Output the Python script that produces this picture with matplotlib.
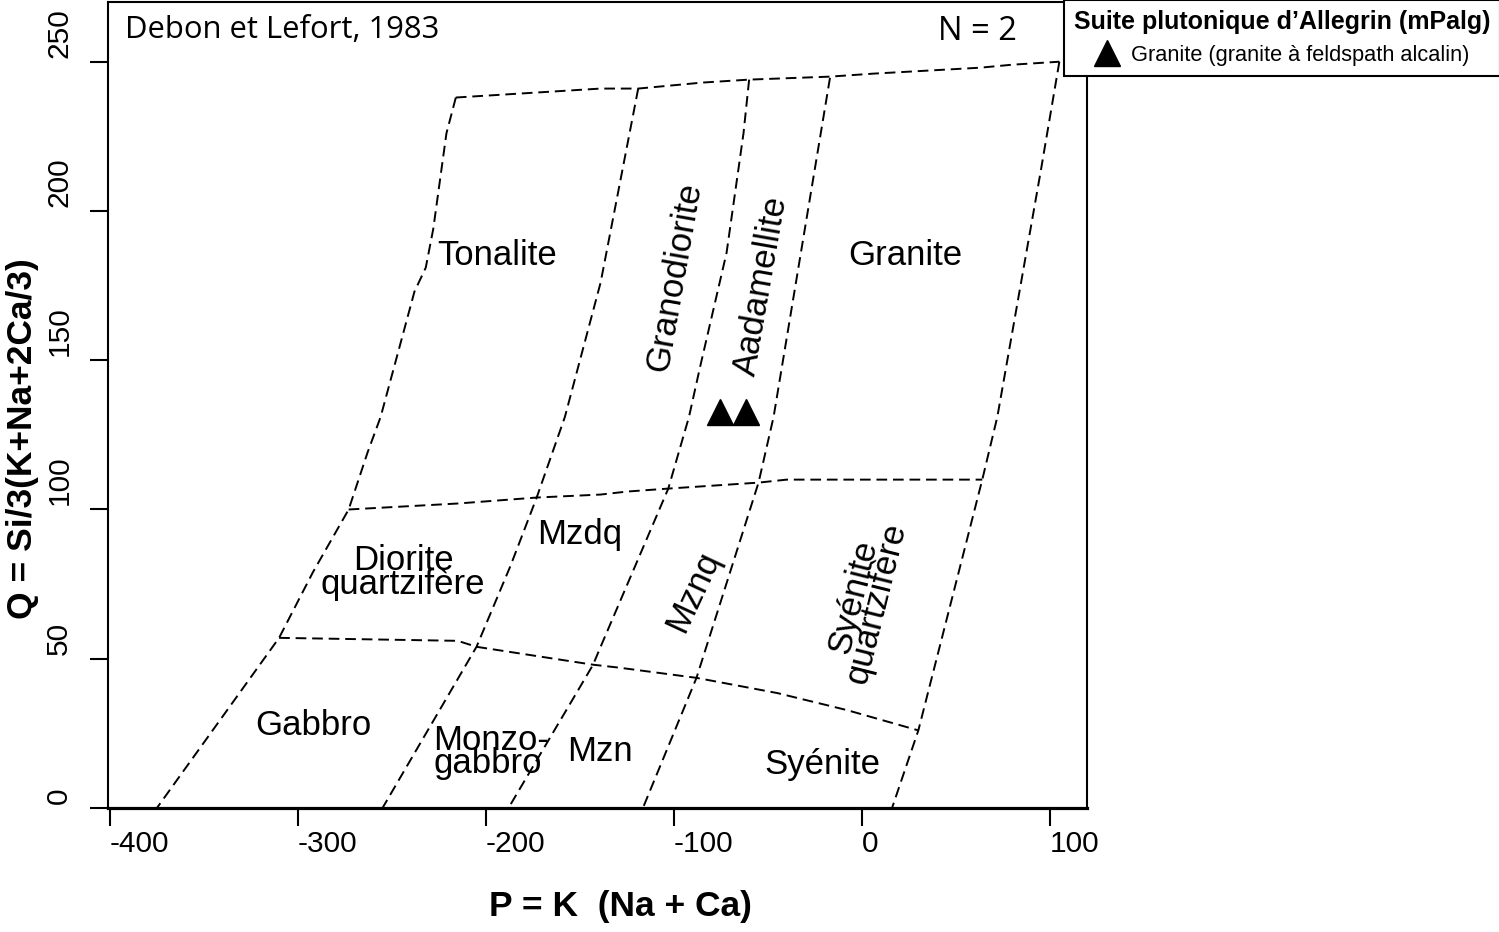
import matplotlib.pyplot as plt
import matplotlib.transforms as mtransforms

# Debon & Lefort (1983) P-Q diagram, field boundaries
top_x = [-216, -139, -119, -85, -60, -17, 6, 63, 80, 105]
top_y = [238, 241, 241, 243, 244, 245, 246, 248, 249, 250]

left_x = [-216, -221, -228, -232, -238, -256, -263, -273, -292, -310, -375]
left_y = [238, 226, 194, 181, 173, 131, 119, 100, 79, 57, 0]

ton_gd_x = [-119, -139, -158, -173, -187, -205, -255]
ton_gd_y = [241, 176, 131, 104, 81, 54, 0]

gd_ad_x = [-60, -63, -72, -86, -92, -103, -139, -143, -150, -188]
gd_ad_y = [244, 226, 186, 148, 131, 107, 54, 48, 40.5, 0]

ad_gr_x = [-17, -47, -55, -88, -116.5]
ad_gr_y = [244.6, 131, 109, 43.6, 0]

right_x = [105, 95, 72, 64, 30, 16]
right_y = [250, 213, 131, 110, 26, 0]

h100_x = [-273, -215, -173, -139, -125, -103, -55, -40, 64]
h100_y = [100, 102, 104, 105, 106, 107, 109, 110, 110]

h57_x = [-310, -215, -205, -143, -129, -88, -45, -8, 30]
h57_y = [57, 56, 54, 48, 47, 43.6, 38.5, 32.8, 26]

boundaries = [(top_x, top_y), (left_x, left_y), (ton_gd_x, ton_gd_y),
              (gd_ad_x, gd_ad_y), (ad_gr_x, ad_gr_y), (right_x, right_y),
              (h100_x, h100_y), (h57_x, h57_y)]

# samples
p_vals = [-75.5, -61.7]
q_vals = [132.7, 132.7]

# field names: text, x, y, rotation
fields = [
    ('Tonalite', -194, 185, 0),
    ('Granite', 23, 185, 0),
    ('Granodiorite', -99.5, 178, 80),
    ('Aadamellite', -53.7, 175, 80),
    ('Mzdq', -150, 91.5, 0),
    ('Mznq', -90, 72.4, 65),
    ('Gabbro', -292, 27.8, 0),
    ('Mzn', -139.4, 18.8, 0),
    ('Syénite', -21.3, 14.7, 0),
]
two_line_fields = [
    ('Diorite\nquartzifère', -244, 79, 0, 'center'),
    ('Monzo-\ngabbro', -228, 18.8, 0, 'left'),
    ('Syénite\nquartzifère', 1.6, 69.7, 76, 'center'),
]

xticks = [-400, -300, -200, -100, 0, 100]
yticks = [0, 50, 100, 150, 200, 250]

plt.rcParams['font.family'] = ['Liberation Sans', 'DejaVu Sans']
plt.rcParams['axes.unicode_minus'] = False

fig = plt.figure(figsize=(14.99, 9.32), dpi=100)
ax = fig.add_axes([108/1499, 1 - 808/932, 979/1499, 806/932])

for bx, by in boundaries:
    ax.plot(bx, by, color='black', lw=1.4, linestyle=(0, (5.5, 3)))

ax.plot(p_vals, q_vals, linestyle='none', marker='^', ms=19, color='black',
        label='Granite (granite à feldspath alcalin)')

for name, fx, fy, rot in fields:
    ax.text(fx, fy, name, fontsize=25, rotation=rot, ha='center', va='center')
for name, fx, fy, rot, al in two_line_fields:
    if al == 'left':
        ax.text(fx, fy, name, fontsize=25, rotation=rot, ha='left', va='center',
                linespacing=0.62, multialignment='left')
    else:
        ax.text(fx, fy, name, fontsize=25, rotation=rot, ha='center', va='center',
                linespacing=0.66, multialignment='center')

ax.text(0.0174, 0.9553, 'Debon et Lefort, 1983', transform=ax.transAxes,
        fontsize=22.3, family='Open Sans', ha='left', va='baseline')
ax.text(0.8478, 0.9529, 'N = 2', transform=ax.transAxes,
        fontsize=23.5, family='Open Sans', ha='left', va='baseline')

ax.set_xlim(-401, 119.7)
ax.set_ylim(0, 270)
ax.set_xticks(xticks)
ax.set_yticks(yticks)
ax.tick_params(axis='both', length=13, width=1.5, labelsize=21.5)
ax.tick_params(axis='x', pad=2.5)
ax.tick_params(axis='y', pad=12)
for lab in ax.get_xticklabels():
    lab.set_horizontalalignment('left')
offset = mtransforms.ScaledTranslation(0, 3/72, fig.dpi_scale_trans)
for lab in ax.get_yticklabels():
    lab.set_rotation(90)
    lab.set_verticalalignment('bottom')
    lab.set_transform(lab.get_transform() + offset)

for side in ['left', 'right', 'top']:
    ax.spines[side].set_linewidth(1.5)
ax.spines['bottom'].set_linewidth(2.3)

ax.set_xlabel('P = K  (Na + Ca)', fontsize=25.5, fontweight='bold')
ax.set_ylabel('Q = Si/3(K+Na+2Ca/3)', fontsize=25.5, fontweight='bold')
ax.xaxis.set_label_coords(0.523, -0.1228)
ax.xaxis.label.set_verticalalignment('center')
ax.yaxis.set_label_coords(-0.0878, 0.4578)
ax.yaxis.label.set_verticalalignment('center')

leg = ax.legend(loc='upper left', bbox_to_anchor=(1064/1499, 1.0),
                bbox_transform=fig.transFigure, borderaxespad=0,
                title="Suite plutonique d’Allegrin (mPalg)",
                title_fontproperties={'weight': 'bold', 'size': 18},
                fontsize=15.7, fancybox=False, framealpha=1, edgecolor='black',
                handlelength=1.2, handletextpad=0.5, borderpad=0.45,
                labelspacing=0.5, alignment='center')
leg.get_frame().set_linewidth(1.5)

fig.savefig('out.png', dpi=100)
